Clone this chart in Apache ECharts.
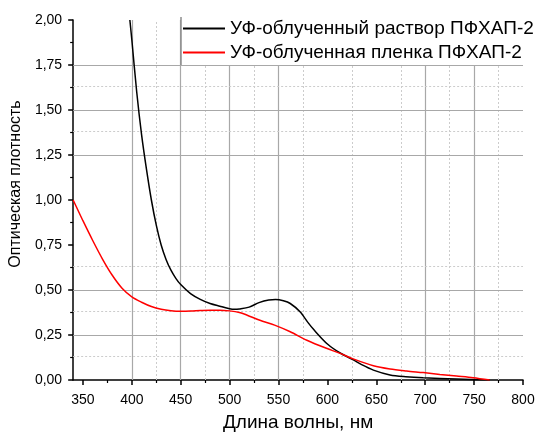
<!DOCTYPE html>
<html>
<head>
<meta charset="utf-8">
<script src="https://cdn.jsdelivr.net/npm/echarts@6/dist/echarts.min.js"></script>
<style>
    html, body { margin: 0; padding: 0; background: #fff; }
    #chart { width: 538px; height: 437px; }
</style>
</head>
<body>
<div id="chart"></div>
<script>
// УФ-облученный раствор ПФХАП-2 (длина волны, нм / оптическая плотность)
var solutionWl = [398, 400, 405, 410, 415, 420, 425, 430, 435, 440, 445, 450, 460, 470, 480, 490, 500, 505, 510, 520, 530, 540, 547, 555, 562, 572, 580, 586, 600, 613, 627, 635, 647, 664, 680, 698, 732, 766];
var solutionOd = [2.0, 1.89, 1.60, 1.362, 1.17, 1.0, 0.86, 0.75, 0.67, 0.61, 0.565, 0.53, 0.48, 0.448, 0.425, 0.41, 0.396, 0.393, 0.395, 0.405, 0.43, 0.445, 0.447, 0.44, 0.425, 0.379, 0.32, 0.28, 0.20, 0.15, 0.11, 0.085, 0.055, 0.028, 0.018, 0.012, 0.006, 0.0];
// УФ-облученная пленка ПФХАП-2
var filmWl = [340, 350, 360, 370, 380, 390, 400, 410, 420, 430, 440, 450, 460, 470, 480, 490, 500, 510, 518, 531, 546, 562, 579, 599, 613, 627, 647, 664, 681, 698, 715, 732, 749, 766];
var filmOd = [1.0, 0.885, 0.775, 0.672, 0.582, 0.51, 0.462, 0.432, 0.408, 0.393, 0.385, 0.382, 0.383, 0.386, 0.388, 0.388, 0.384, 0.375, 0.36, 0.332, 0.305, 0.268, 0.221, 0.176, 0.148, 0.116, 0.079, 0.061, 0.05, 0.041, 0.031, 0.022, 0.013, 0.0];

var seriesNames = ['УФ-облученный раствор ПФХАП-2', 'УФ-облученная пленка ПФХАП-2'];
var xTicks = [350, 400, 450, 500, 550, 600, 650, 700, 750, 800];
var xMinorTicks = [375, 425, 475, 525, 575, 625, 675, 725, 775];
// линии сетки, видимые на исходном рисунке
var xGridMajor = [400, 450, 500, 550, 700, 750];
var xGridMinor = [425, 475, 525, 575, 625, 675, 725, 775];
var yGridMajor = [0.25, 0.5, 1.25, 1.5, 1.75];
var yGridMinor = [0.125, 0.375, 0.625, 1.375, 1.625];

function pairs(xs, ys) {
    var out = [];
    for (var i = 0; i < xs.length; i++) out.push([xs[i], ys[i]]);
    return out;
}

var majorStyle = { color: '#a8a8a8', width: 1.2, type: 'solid' };
var minorStyle = { color: '#cccccc', width: 1, type: [2, 2] };
var gridLines = [];
xGridMajor.forEach(function (v) { gridLines.push({ xAxis: v, lineStyle: majorStyle }); });
xGridMinor.forEach(function (v) { gridLines.push({ xAxis: v, lineStyle: minorStyle }); });
yGridMajor.forEach(function (v) { gridLines.push({ yAxis: v, lineStyle: majorStyle }); });
yGridMinor.forEach(function (v) { gridLines.push({ yAxis: v, lineStyle: minorStyle }); });

var myChart = echarts.init(document.getElementById('chart'));
var font = 'Liberation Sans, Arial, sans-serif';
var axisBlack = { color: '#000', width: 1.5 };
var option = {
    animation: false,
    textStyle: { fontFamily: font },
    grid: { left: 73, top: 20, right: 15, bottom: 55 },
    legend: {
        orient: 'vertical',
        left: 181,
        top: 17,
        z: 10,
        padding: [2, 6, 3, 2],
        icon: 'rect',
        itemWidth: 42,
        itemHeight: 2,
        itemGap: 5,
        backgroundColor: '#fff',
        textStyle: { fontSize: 19, color: '#000', fontFamily: font },
        data: seriesNames
    },
    // левая граница рамки легенды
    graphic: [{
        type: 'line',
        z: 100,
        shape: { x1: 181, y1: 17, x2: 181, y2: 65 },
        style: { stroke: '#8c8c8c', lineWidth: 1.5 }
    }],
    xAxis: [{
        type: 'value',
        min: 340,
        max: 800,
        splitNumber: 9,
        name: 'Длина волны, нм',
        nameLocation: 'middle',
        nameGap: 33,
        nameTextStyle: { fontSize: 19, color: '#000' },
        axisLine: { lineStyle: axisBlack },
        axisTick: { show: true, inside: false, length: 5, lineStyle: axisBlack, customValues: xTicks },
        axisLabel: { fontSize: 14, color: '#000', margin: 13, customValues: xTicks },
        splitLine: { show: false }
    }, {
        // только малые деления
        type: 'value',
        min: 340,
        max: 800,
        position: 'bottom',
        axisLine: { show: false },
        axisTick: { show: true, inside: false, length: 3, lineStyle: { color: '#000', width: 1.2 }, customValues: xMinorTicks },
        axisLabel: { show: false },
        splitLine: { show: false }
    }],
    yAxis: {
        type: 'value',
        min: 0,
        max: 2,
        interval: 0.25,
        name: 'Оптическая плотность',
        nameLocation: 'middle',
        nameGap: 45,
        nameTextStyle: { fontSize: 16, color: '#000', padding: [0, 0, 0, 32] },
        axisLine: { show: true, lineStyle: axisBlack },
        axisTick: { show: true, inside: false, length: 5, lineStyle: axisBlack },
        minorTick: { show: true, splitNumber: 2, length: 3, lineStyle: { color: '#000', width: 1.2 } },
        axisLabel: {
            fontSize: 14, color: '#000', margin: 11,
            formatter: function (v) { return v.toFixed(2).replace('.', ','); }
        },
        splitLine: { show: false }
    },
    series: [{
        name: 'grid',
        type: 'line',
        z: 1,
        data: [],
        markLine: { silent: true, z: 1, symbol: 'none', label: { show: false }, animation: false, data: gridLines }
    }, {
        name: seriesNames[0],
        type: 'line',
        z: 3,
        smooth: 0.3,
        symbol: 'none',
        lineStyle: { color: '#000', width: 1.5 },
        itemStyle: { color: '#000' },
        data: pairs(solutionWl, solutionOd)
    }, {
        name: seriesNames[1],
        type: 'line',
        z: 3,
        smooth: 0.3,
        symbol: 'none',
        lineStyle: { color: '#ff0000', width: 1.5 },
        itemStyle: { color: '#ff0000' },
        data: pairs(filmWl, filmOd)
    }]
};
myChart.setOption(option);
</script>
</body>
</html>
